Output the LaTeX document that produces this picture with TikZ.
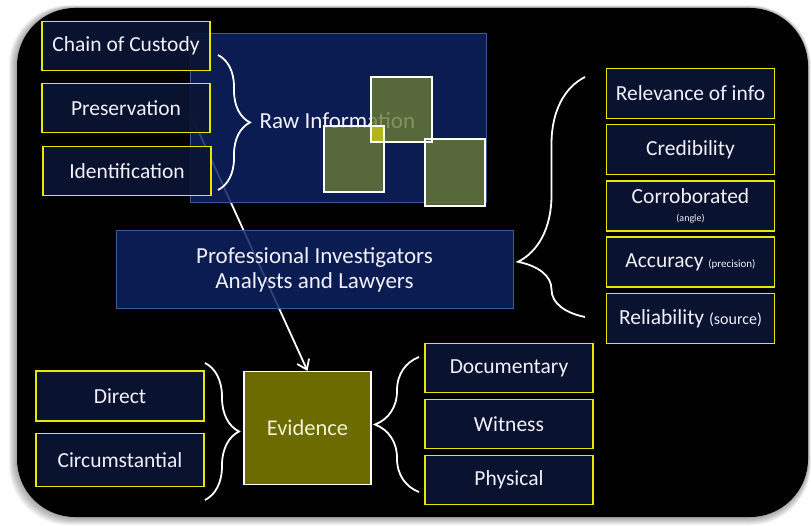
\documentclass[tikz,border=0pt]{standalone}
\usepackage{fontspec}
\setmainfont{Carlito}
\usetikzlibrary{decorations.pathreplacing,arrows.meta}

\definecolor{boxnavy}{HTML}{0B1533}
\definecolor{boxyellow}{HTML}{E6E600}
\definecolor{panelblue}{HTML}{0D2161}
\definecolor{panelline}{HTML}{3B5A93}
\definecolor{tileolive}{HTML}{6B7B35}
\definecolor{tileglow}{HTML}{B4B41E}
\definecolor{evidolive}{HTML}{6B6B00}
\definecolor{txtwhite}{HTML}{F2F0FA}

\tikzset{
  item/.style={draw=boxyellow, line width=1.4pt, fill=boxnavy, fill opacity=.9,
    text opacity=1, text=txtwhite, minimum width=168pt, minimum height=49pt,
    inner sep=0pt, align=center, font=\fontsize{21.5}{22}\selectfont},
  panel/.style={draw=panelline, line width=1pt, fill=panelblue, fill opacity=.85},
  tile/.style={draw=white, line width=1.4pt, fill=tileolive, fill opacity=.8},
  curly/.style={decorate, decoration={brace, amplitude=#1}, draw=white, line width=1.8pt},
  label/.style={text=txtwhite, font=\fontsize{23}{25}\selectfont, align=center},
}

\begin{document}
\begin{tikzpicture}[x=1pt, y=-1pt]
        \useasboundingbox (0,0) rectangle (811,526);%

        % soft shadow and black panel
        \foreach \k in {1,...,8} {%
          \fill[black, opacity=.05, rounded corners=60pt] (17-\k,8-\k/3) rectangle (808+\k/3,517+\k); }%
        \fill[black, rounded corners=58pt] (17,8) rectangle (808,517);%

        \coordinate (rawtail) at (192,117);%
        \node[draw=white, line width=1.2pt, fill=evidolive, minimum width=127pt, minimum height=113pt,
          text=txtwhite!85!yellow, font=\fontsize{22.5}{24}\selectfont] (evid) at (307.5,428) {Evidence};%
        \draw[white, line width=1.8pt, -{Straight Barb[length=9pt, width=13pt]}] (rawtail) -- (evid.north);%

        % raw information block
        \node[panel, minimum width=296pt, minimum height=169pt] (raw) at (338,118.5) {};%
        \node[label, anchor=west] (rawtext) at (256,121) {Raw Information};%
        \draw[tile] (371,77) rectangle (432,142) (324,126) rectangle (384,192) (425,139) rectangle (485,206);%
        \fill[tileglow] (372,127) rectangle (383,141);%

        \node[panel, minimum width=397pt, minimum height=78pt] (prof) at (314.5,270) {};%
        \node[label] at (prof) {Professional Investigators\\Analysts and Lawyers};%

        \node[item] (chain) at (126,46) {Chain of Custody};%
        \node[item] (preserv) at (126,108) {Preservation};%
        \node[item] (ident) at (127,171) {Identification};%

        \foreach \nm/\txt [count=\i] in {relev/Relevance of info, cred/Credibility,
          corrob/{Corroborated\\[-4pt]{\fontsize{10}{10}\selectfont (angle)}},
          accur/{Accuracy {\fontsize{11}{11}\selectfont (precision)}},
          reliab/{Reliability {\fontsize{16}{16}\selectfont (source)}}} {%
          \node[item, minimum height=50pt] (\nm) at (690.5,37+56.3*\i) {\txt}; }%

        \node[item, minimum height=50pt] (direct) at (120,396) {Direct};%
        \node[item, minimum height=53pt] (circum) at (120,460) {Circumstantial};%
        \foreach \nm/\txt [count=\i] in {docum/Documentary, witn/Witness, phys/Physical} {%
          \node[item] (\nm) at (509,312+56*\i) {\txt}; }%

        % braces
        \coordinate (b1a) at (218,55); \coordinate (b1b) at (218,190);%
        \coordinate (b2a) at (585,317); \coordinate (b2b) at (585,77);%
        \coordinate (b3a) at (205,363); \coordinate (b3b) at (205,500);%
        \coordinate (b4a) at (419,492); \coordinate (b4b) at (419,357);%
        \draw[curly=32pt] (b1a) -- (b1b);%
        \draw[curly=67pt, decoration={aspect=.23}] (b2a) -- (b2b);%
        \draw[curly=34pt] (b3a) -- (b3b);%
        \draw[curly=44pt] (b4a) -- (b4b);%
      \end{tikzpicture}
\end{document}
